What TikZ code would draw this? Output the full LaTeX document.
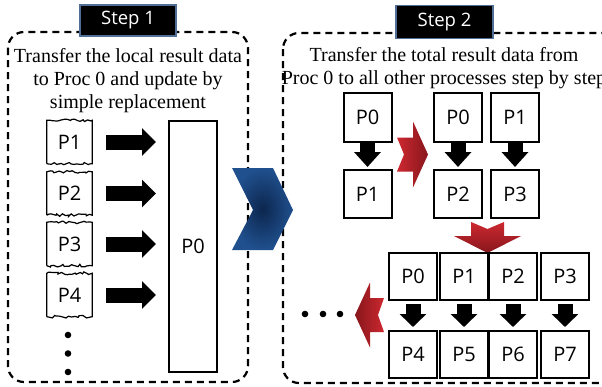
\documentclass[tikz,border=0pt]{standalone}
\usepackage{fontspec}
\setmainfont{Liberation Serif}
\setsansfont{Open Sans}
\usetikzlibrary{arrows.meta,decorations.pathmorphing}
\definecolor{navyA}{RGB}{12,38,78}
\definecolor{navyB}{RGB}{32,80,142}
\definecolor{redA}{RGB}{205,40,48}
\definecolor{redB}{RGB}{135,22,28}
\definecolor{stepedge}{RGB}{80,110,150}
\begin{document}
\begin{tikzpicture}[x=1pt,y=-1pt,
  dashbox/.style={draw=black,line width=2.2pt,dash pattern=on 7pt off 5pt,rounded corners=16pt},
  steplabel/.style={draw=stepedge,fill=black,line width=1.5pt,text=white,font=\sffamily\fontsize{18.5}{20}\selectfont,inner sep=0pt},
  desc/.style={align=center,font=\fontsize{20}{23}\selectfont,inner sep=0pt},
  pbox/.style={draw=black,fill=white,line width=2pt,minimum width=48pt,minimum height=48pt,inner sep=0pt,font=\sffamily\fontsize{20}{22}\selectfont},
  wbox/.style={minimum width=45pt,minimum height=43pt,inner sep=0pt,font=\sffamily\fontsize{20}{22}\selectfont},
  wavy/.style={decorate,decoration={random steps,segment length=2.5pt,amplitude=1.4pt}},
  blkarrow/.style={line width=15pt,-{Triangle[width=27pt,length=14pt]}},
  dot/.style={fill=black}
]
\useasboundingbox (0,0) rectangle (602,386);
\pgfmathsetseed{11}
% dashed frames
\draw[dashbox] (8,32) rectangle (248,382);
\draw[dashbox] (283,33) rectangle (618,383);
% step labels
\node[steplabel,minimum width=96pt,minimum height=31pt] (s1) at (128,20.5) {Step 1};
\node[steplabel,minimum width=97pt,minimum height=33pt] (s2) at (444.5,22) {Step 2};
% descriptions
\node[desc] (t1) at (128,80.5) {Transfer the local result data\\to Proc 0 and update by\\simple replacement};
\node[desc] (t2) at (444,68) {Transfer the total result data from\\Proc 0 to all other processes step by step};
% step 1 content
\node[wbox] (L1) at (69.5,142) {P1};
\node[wbox] (L2) at (69.5,193.5) {P2};
\node[wbox] (L3) at (69.5,244) {P3};
\node[wbox] (L4) at (69.5,295) {P4};
\foreach \n in {L1,L2,L3,L4}{
  \draw[line width=1.2pt] (\n.south west) -- (\n.north west)
     decorate[wavy]{-- (\n.north east)} -- (\n.south east)
     decorate[wavy]{-- (\n.south west)};
}
\node[draw=black,fill=white,line width=2pt,minimum width=48pt,minimum height=251pt,inner sep=0pt,font=\sffamily\fontsize{20}{22}\selectfont] (BP0) at (193,246.5) {P0};
\foreach \n in {L1,L2,L3,L4}{
  \draw[blkarrow,shorten >=12pt] ([xshift=14pt]\n.east) -- (BP0.west |- \n.east);
}
\fill[dot] (68,335) circle (3.3pt);
\fill[dot] (68,353.5) circle (3.3pt);
\fill[dot] (68,372) circle (3.3pt);
% blue chevron
\shade[inner color=navyA,outer color=navyB] (232,168) -- (273,168) -- (293,210) -- (273,250) -- (232,250) -- (253,210) -- cycle;
% step 2 content
\node[pbox,minimum height=49pt] (A0) at (367.5,117.5) {P0};
\node[pbox] (A1) at (367.5,194) {P1};
\node[pbox,minimum height=49pt] (B0) at (458,117.5) {P0};
\node[pbox,minimum height=49pt] (B1) at (515,117.5) {P1};
\node[pbox] (B2) at (458,194) {P2};
\node[pbox] (B3) at (515,194) {P3};
\foreach \a/\b in {A0/A1,B0/B2,B1/B3}{
  \draw[line width=15pt,-{Triangle[width=26pt,length=15pt]},shorten >=2pt] (\a.south) -- (\b.north);
}
% red arrow right
\shade[left color=redA,right color=redB] (397,137.5) -- (413,137.5) -- (413,121.5) -- (428,154.5) -- (413,187.5) -- (413,171.5) -- (397,171.5) -- (404,154.5) -- cycle;
% red arrow down
\shade[top color=redA,bottom color=redB] (471,222) -- (487.5,229) -- (504,222) -- (504,236) -- (521,236) -- (487.5,253) -- (454,236) -- (471,236) -- cycle;
% bottom rows
\node[pbox,minimum height=47pt] (C0) at (413,276.5) {P0};
\node[pbox,minimum height=47pt] (C1) at (464,276.5) {P1};
\node[pbox,minimum height=47pt] (C2) at (513,276.5) {P2};
\node[pbox,minimum height=47pt] (C3) at (565,276.5) {P3};
\node[pbox,minimum height=47pt] (D0) at (413,354.5) {P4};
\node[pbox,minimum height=47pt] (D1) at (464,354.5) {P5};
\node[pbox,minimum height=47pt] (D2) at (513,354.5) {P6};
\node[pbox,minimum height=47pt] (D3) at (565,354.5) {P7};
\foreach \a/\b in {C0/D0,C1/D1,C2/D2,C3/D3}{
  \draw[line width=15pt,-{Triangle[width=26pt,length=13pt]},shorten <=3pt,shorten >=3pt] (\a.south) -- (\b.north);
}
% red arrow left
\shade[left color=redB,right color=redA] (384,298) -- (378,315) -- (384,332) -- (370,332) -- (370,347.5) -- (355,315) -- (370,282.5) -- (370,298) -- cycle;
\fill[dot] (305,314) circle (3.3pt);
\fill[dot] (323,314) circle (3.3pt);
\fill[dot] (340,314) circle (3.3pt);
\end{tikzpicture}
\end{document}
